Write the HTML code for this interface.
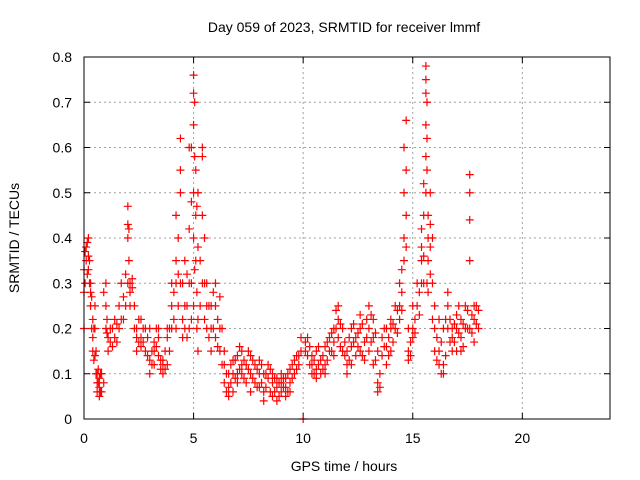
<!DOCTYPE html>
<html><head><meta charset="utf-8"><style>
body{margin:0;background:#fff}
svg{display:block;font-family:"Liberation Sans",sans-serif}
</style></head><body>
<svg id="chart" width="640" height="480" viewBox="0 0 640 480">
<text x="344" y="32" font-size="14" text-anchor="middle">Day 059 of 2023, SRMTID for receiver lmmf</text>
<g id="grid"></g>
<g id="ticks"></g>
<g id="points"></g>
<rect x="84" y="57" width="526" height="362" fill="none" stroke="#000" stroke-width="1"/>
<text x="344" y="471" font-size="14" text-anchor="middle">GPS time / hours</text>
<text transform="translate(19,238) rotate(-90)" font-size="14" text-anchor="middle">SRMTID / TECUs</text>
</svg>
<script>
const xTicks=[0,5,10,15,20];
const yTicks=[0,0.1,0.2,0.3,0.4,0.5,0.6,0.7,0.8];
const yTickLabels=["0","0.1","0.2","0.3","0.4","0.5","0.6","0.7","0.8"];
const times=[0,0,0,0.1,0.1,0.2,0.2,0.2,0.3,0.3,0.3,0.4,0.4,0.4,0.5,0.5,0.5,0.6,0.6,0.6,0.7,0.7,0.7,0.8,0.8,1.0,1.0,1.0,1.1,1.1,1.2,1.2,1.4,1.4,1.6,1.6,1.8,1.8,2.0,2.0,2.0,2.0,2.1,2.1,2.1,2.2,2.2,2.4,2.4,2.4,2.6,2.6,2.6,2.8,2.8,3.0,3.0,3.0,3.2,3.2,3.2,3.4,3.4,3.4,3.6,3.6,3.6,3.8,3.8,3.8,4.0,4.0,4.0,4.2,4.2,4.2,4.2,4.4,4.4,4.4,4.4,4.6,4.6,4.6,4.8,4.8,4.8,4.8,5.0,5.0,5.0,5.0,5.0,5.0,5.1,5.1,5.1,5.2,5.2,5.2,5.2,5.4,5.4,5.4,5.4,5.6,5.6,5.6,5.8,5.8,5.8,6.0,6.0,6.0,6.2,6.2,6.2,6.4,6.4,6.4,6.6,6.6,6.6,6.8,6.8,6.8,7.0,7.0,7.0,7.2,7.2,7.2,7.4,7.4,7.6,7.6,7.6,7.8,7.8,8.0,8.0,8.0,8.2,8.2,8.2,8.4,8.4,8.6,8.6,8.6,8.8,8.8,8.8,9.0,9.0,9.0,9.2,9.2,9.2,9.4,9.4,9.4,9.6,9.6,9.8,9.8,10.0,10.1,10.1,10.2,10.2,10.4,10.4,10.4,10.6,10.6,10.6,10.8,10.8,11.0,11.0,11.0,11.2,11.2,11.4,11.4,11.4,11.6,11.6,11.6,11.8,11.8,12.0,12.0,12.0,12.2,12.2,12.2,12.4,12.4,12.6,12.6,12.6,12.8,12.8,13.0,13.0,13.0,13.2,13.2,13.2,13.4,13.4,13.4,13.6,13.6,13.8,13.8,13.8,14.0,14.0,14.0,14.2,14.2,14.4,14.4,14.4,14.6,14.6,14.6,14.6,14.7,14.7,14.7,14.7,14.8,14.8,14.8,15.0,15.0,15.0,15.2,15.2,15.4,15.4,15.4,15.4,15.6,15.6,15.6,15.6,15.6,15.6,15.7,15.7,15.7,15.7,15.8,15.8,15.8,15.8,16.0,16.0,16.0,16.2,16.2,16.2,16.4,16.4,16.4,16.6,16.6,16.6,16.8,16.8,16.8,17.0,17.0,17.0,17.2,17.2,17.2,17.4,17.4,17.6,17.6,17.6,17.6,17.6,17.8,17.8,17.8,18.0,18.0,
0.05,0.05,0.15,0.15,0.25,0.25,0.35,0.35,0.45,0.45,0.55,0.55,0.65,0.65,0.75,0.75,0.9,0.9,1.05,1.05,1.3,1.3,1.5,1.5,1.7,1.7,1.9,1.9,2.05,2.05,2.3,2.3,2.5,2.5,2.7,2.7,2.9,2.9,3.1,3.1,3.3,3.3,3.5,3.5,3.7,3.7,3.9,3.9,4.1,4.1,4.3,4.3,4.3,4.5,4.5,4.5,4.7,4.7,4.7,4.9,4.9,4.9,4.9,5.05,5.05,5.05,5.15,5.15,5.15,5.3,5.3,5.5,5.5,5.5,5.7,5.7,5.9,5.9,6.1,6.1,6.3,6.3,6.5,6.5,6.7,6.7,6.9,6.9,7.1,7.1,7.3,7.3,7.5,7.5,7.7,7.7,7.9,7.9,8.1,8.1,8.3,8.3,8.5,8.5,8.7,8.7,8.9,8.9,9.1,9.1,9.3,9.3,9.5,9.5,9.7,9.7,9.9,9.9,10.3,10.3,10.5,10.5,10.7,10.7,10.9,10.9,11.1,11.1,11.3,11.3,11.5,11.5,11.7,11.7,11.9,11.9,12.1,12.1,12.3,12.3,12.5,12.5,12.7,12.7,12.9,12.9,13.1,13.1,13.3,13.3,13.5,13.5,13.7,13.7,13.9,13.9,14.1,14.1,14.3,14.3,14.5,14.5,14.5,14.9,14.9,15.1,15.1,15.3,15.3,15.5,15.5,15.5,15.5,15.65,15.65,15.65,15.65,15.9,15.9,15.9,16.1,16.1,16.3,16.3,16.5,16.5,16.7,16.7,16.9,16.9,17.1,17.1,17.3,17.3,17.5,17.5,17.7,17.7,17.9,17.9];
const srmtid=[0.2,0.28,0.33,0.35,0.38,0.36,0.4,0.33,0.28,0.25,0.3,0.22,0.18,0.15,0.14,0.2,0.25,0.08,0.1,0.06,0.07,0.09,0.05,0.1,0.06,0.2,0.3,0.25,0.18,0.15,0.2,0.17,0.18,0.22,0.2,0.25,0.27,0.22,0.4,0.47,0.43,0.3,0.3,0.28,0.25,0.29,0.31,0.18,0.2,0.15,0.18,0.22,0.16,0.2,0.15,0.13,0.1,0.2,0.17,0.15,0.12,0.2,0.18,0.14,0.1,0.13,0.12,0.18,0.2,0.12,0.25,0.2,0.3,0.35,0.3,0.45,0.2,0.55,0.62,0.5,0.3,0.35,0.25,0.2,0.42,0.6,0.3,0.2,0.76,0.72,0.65,0.5,0.4,0.25,0.55,0.45,0.35,0.5,0.38,0.22,0.15,0.6,0.58,0.45,0.3,0.3,0.25,0.2,0.25,0.2,0.15,0.3,0.25,0.18,0.27,0.2,0.15,0.15,0.12,0.08,0.1,0.07,0.05,0.13,0.1,0.06,0.1,0.14,0.08,0.12,0.1,0.15,0.08,0.12,0.14,0.1,0.06,0.12,0.08,0.1,0.13,0.07,0.1,0.06,0.04,0.12,0.09,0.08,0.05,0.1,0.07,0.04,0.09,0.06,0.08,0.1,0.05,0.09,0.07,0.08,0.11,0.06,0.1,0.13,0.14,0.12,0.0,0.15,0.17,0.18,0.14,0.12,0.1,0.14,0.11,0.15,0.09,0.13,0.1,0.12,0.16,0.1,0.15,0.18,0.2,0.17,0.14,0.22,0.25,0.18,0.2,0.15,0.12,0.15,0.1,0.16,0.2,0.12,0.18,0.14,0.2,0.23,0.15,0.17,0.13,0.25,0.2,0.15,0.22,0.18,0.12,0.15,0.08,0.06,0.14,0.18,0.16,0.12,0.2,0.2,0.22,0.15,0.25,0.2,0.3,0.25,0.22,0.35,0.4,0.5,0.6,0.66,0.55,0.45,0.38,0.2,0.15,0.13,0.2,0.18,0.25,0.3,0.25,0.35,0.42,0.38,0.3,0.5,0.58,0.65,0.72,0.78,0.75,0.45,0.4,0.35,0.28,0.5,0.43,0.38,0.32,0.25,0.2,0.15,0.22,0.15,0.12,0.2,0.12,0.1,0.25,0.28,0.2,0.15,0.18,0.2,0.15,0.2,0.23,0.18,0.22,0.15,0.2,0.25,0.54,0.5,0.44,0.35,0.2,0.25,0.22,0.17,0.24,0.2,
0.3,0.37,0.39,0.32,0.35,0.3,0.27,0.2,0.2,0.13,0.1,0.15,0.08,0.11,0.06,0.1,0.08,0.28,0.22,0.19,0.2,0.16,0.21,0.17,0.22,0.3,0.25,0.32,0.42,0.35,0.25,0.2,0.17,0.22,0.2,0.17,0.18,0.14,0.15,0.12,0.2,0.16,0.13,0.11,0.15,0.11,0.2,0.15,0.28,0.22,0.4,0.25,0.32,0.3,0.22,0.18,0.25,0.32,0.18,0.6,0.48,0.3,0.22,0.7,0.58,0.33,0.47,0.28,0.2,0.35,0.25,0.4,0.22,0.3,0.25,0.18,0.2,0.28,0.22,0.16,0.2,0.12,0.1,0.06,0.12,0.08,0.13,0.09,0.11,0.16,0.13,0.09,0.11,0.15,0.09,0.13,0.11,0.07,0.12,0.08,0.1,0.07,0.06,0.11,0.09,0.06,0.08,0.05,0.07,0.09,0.06,0.1,0.09,0.12,0.11,0.14,0.15,0.18,0.16,0.12,0.13,0.1,0.12,0.16,0.11,0.14,0.13,0.17,0.19,0.15,0.2,0.24,0.21,0.16,0.14,0.17,0.13,0.18,0.17,0.21,0.16,0.19,0.21,0.14,0.18,0.22,0.23,0.17,0.19,0.13,0.1,0.07,0.16,0.2,0.18,0.14,0.21,0.17,0.24,0.19,0.28,0.33,0.24,0.17,0.14,0.22,0.19,0.28,0.23,0.45,0.36,0.3,0.52,0.7,0.62,0.55,0.3,0.4,0.3,0.22,0.18,0.13,0.17,0.1,0.22,0.14,0.22,0.17,0.17,0.21,0.19,0.25,0.21,0.16,0.2,0.24,0.23,0.19,0.21,0.25];
const NS="http://www.w3.org/2000/svg";
const X0=84,X1=610,Y0=419,Y1=57;
function xs(t){return X0+(t/24)*(X1-X0);}
function ys(v){return Y0-(v/0.8)*(Y0-Y1);}
function mk(tag,attrs,parent){const e=document.createElementNS(NS,tag);for(const k in attrs)e.setAttribute(k,attrs[k]);parent.appendChild(e);return e;}
const grid=document.getElementById('grid'),ticks=document.getElementById('ticks'),pts=document.getElementById('points');
xTicks.forEach(t=>{
  const x=xs(t);
  if(t>0){const g=mk('line',{x1:x,x2:x,y1:Y1,y2:Y0,stroke:'#a0a0a0','stroke-dasharray':'2,3'},grid);
  
  }
  mk('line',{x1:x,x2:x,y1:Y0,y2:Y0-6,stroke:'#000'},ticks);
  mk('line',{x1:x,x2:x,y1:Y1,y2:Y1+6,stroke:'#000'},ticks);
  const l=mk('text',{x:x,y:443,'font-size':14,'text-anchor':'middle'},ticks);l.textContent=t;
  
  
});
yTicks.forEach((v,i)=>{
  const y=ys(v);
  if(i>0&&i<yTicks.length-1){const g=mk('line',{x1:X0,x2:X1,y1:y,y2:y,stroke:'#a0a0a0','stroke-dasharray':'2,3'},grid);
  
  }
  mk('line',{x1:X0,x2:X0+6,y1:y,y2:y,stroke:'#000'},ticks);
  mk('line',{x1:X1,x2:X1-6,y1:y,y2:y,stroke:'#000'},ticks);
  const l=mk('text',{x:72,y:y+5,'font-size':14,'text-anchor':'end'},ticks);l.textContent=yTickLabels[i];
  
  
});
times.forEach((t,i)=>{
  const x=xs(t),y=ys(srmtid[i]);
  const p=mk('path',{d:`M${x-4},${y}h8M${x},${y-4}v8`,stroke:'#ff0000','stroke-width':1.2,fill:'none'},pts);
  
  
});
</script>
</body></html>
